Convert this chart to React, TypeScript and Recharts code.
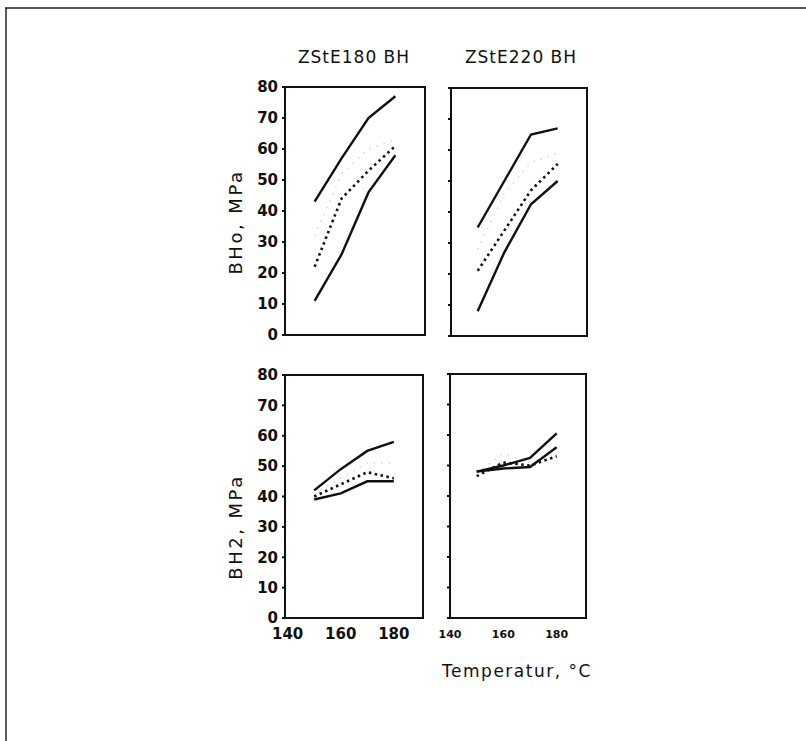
import React from 'react';
import { LineChart, Line, XAxis, YAxis, ReferenceArea } from 'recharts';

// ---- data ----
const temps = [150, 160, 170, 180];
const xTicks = [140, 160, 180];
const yTicks = [0, 10, 20, 30, 40, 50, 60, 70, 80];
const titles = ['ZStE180 BH', 'ZStE220 BH'];
const yLabels = ['BHo, MPa', 'BH2, MPa'];
const xLabel = 'Temperatur, °C';

// ZStE180 BH, BHo
const bho180Upper = [43, 57, 70, 77];
const bho180Faint = [32, 52, 60, 63];
const bho180Mid = [22, 44, 53, 61];
const bho180Lower = [11, 26, 46, 58];
// ZStE220 BH, BHo
const bho220Upper = [35, 50, 65, 67];
const bho220Faint = [28, 46, 56, 59];
const bho220Mid = [21, 34, 47, 55.5];
const bho220Lower = [8, 27, 42.5, 50];
// ZStE180 BH, BH2
const bh2180Upper = [42, 49, 55, 58];
const bh2180Faint = [41, 46, 51, 51];
const bh2180Mid = [40, 44, 48, 46];
const bh2180Lower = [39, 41, 45, 45];
// ZStE220 BH, BH2
const bh2220Upper = [48, 50, 52.5, 60.5];
const bh2220Faint = [47.5, 54, 51, 54];
const bh2220Mid = [46.5, 51, 50, 53];
const bh2220Lower = [48, 49, 49.5, 56];

const LEFT_DOMAIN: [number, number] = [139, 191];
const RIGHT_DOMAIN: [number, number] = [140, 191];
const Y_DOMAIN: [number, number] = [0, 80];

function build(upper: number[], faint: number[], mid: number[], lower: number[]) {
  return temps.map((t, i) => ({ t, upper: upper[i], faint: faint[i], mid: mid[i], lower: lower[i] }));
}

const FONT = '"DejaVu Sans", sans-serif';
const INK = '#111';

type PanelProps = {
  left: number;
  top: number;
  w: number;
  h: number;
  data: any[];
  domain: [number, number];
  yLabels: boolean;
  xLabels: 'big' | 'small' | 'none';
};

function Panel({ left, top, w, h, data, domain, yLabels: showY, xLabels }: PanelProps) {
  const padL = 60;
  const padT = 10;
  const padR = 10;
  const padB = 40;
  const xTickStyle =
    xLabels === 'big'
      ? { fontSize: 15, fontWeight: 'bold', fill: INK, fontFamily: FONT }
      : { fontSize: 11, fontWeight: 'bold', fill: INK, fontFamily: FONT };
  return (
    <div style={{ position: 'absolute', left: left - padL, top: top - padT }}>
      <LineChart
        width={w + padL + padR}
        height={h + padT + padB}
        data={data}
        margin={{ top: padT, right: padR, bottom: 0, left: 0 }}
      >
        <XAxis
          dataKey="t"
          type="number"
          domain={domain}
          allowDataOverflow
          ticks={xTicks}
          height={padB}
          axisLine={{ stroke: INK, strokeWidth: 2 }}
          tickLine={false}
          tickSize={0}
          tickMargin={xLabels === 'big' ? 10 : 12}
          tick={xLabels === 'none' ? false : xTickStyle}
          interval={0}
        />
        <YAxis
          type="number"
          domain={Y_DOMAIN}
          ticks={yTicks}
          width={padL}
          interval={0}
          axisLine={{ stroke: INK, strokeWidth: 2 }}
          tickLine={{ stroke: INK, strokeWidth: 2 }}
          tickSize={3}
          tickMargin={4}
          tickFormatter={showY ? undefined : () => ''}
          tick={{ fontSize: 15, fontWeight: 'bold', fill: INK, fontFamily: FONT }}
        />
        <ReferenceArea
          x1={domain[0]}
          x2={domain[1]}
          y1={Y_DOMAIN[0]}
          y2={Y_DOMAIN[1]}
          fill="none"
          fillOpacity={0}
          stroke={INK}
          strokeWidth={2}
          ifOverflow="visible"
        />
        <Line type="linear" dataKey="faint" stroke="#d6d6d6" strokeWidth={1.5} strokeDasharray="1.5 6" dot={false} isAnimationActive={false} />
        <Line type="linear" dataKey="upper" stroke={INK} strokeWidth={2.4} dot={false} isAnimationActive={false} />
        <Line type="linear" dataKey="mid" stroke={INK} strokeWidth={2.6} strokeDasharray="2.5 3.5" dot={false} isAnimationActive={false} />
        <Line type="linear" dataKey="lower" stroke={INK} strokeWidth={2.4} dot={false} isAnimationActive={false} />
      </LineChart>
    </div>
  );
}

export default function App() {
  return (
    <div
      style={{
        position: 'absolute',
        left: 0,
        top: 0,
        width: 806,
        height: 741,
        background: '#fff',
        overflow: 'hidden',
        fontFamily: FONT,
      }}
    >
      <Panel left={285} top={87} w={140} h={248} data={build(bho180Upper, bho180Faint, bho180Mid, bho180Lower)} domain={LEFT_DOMAIN} yLabels xLabels="none" />
      <Panel left={451} top={88} w={136} h={248} data={build(bho220Upper, bho220Faint, bho220Mid, bho220Lower)} domain={RIGHT_DOMAIN} yLabels={false} xLabels="none" />
      <Panel left={285} top={375} w={138} h={243} data={build(bh2180Upper, bh2180Faint, bh2180Mid, bh2180Lower)} domain={LEFT_DOMAIN} yLabels xLabels="big" />
      <Panel left={450} top={374} w={136} h={244} data={build(bh2220Upper, bh2220Faint, bh2220Mid, bh2220Lower)} domain={RIGHT_DOMAIN} yLabels={false} xLabels="small" />
      <svg width={806} height={741} style={{ position: 'absolute', left: 0, top: 0, pointerEvents: 'none' }}>
        <line x1={5} y1={8} x2={806} y2={8} stroke="#222" strokeWidth={1.5} />
        <line x1={6} y1={8} x2={6} y2={741} stroke="#222" strokeWidth={1.5} />
        <text x={354} y={63} textAnchor="middle" fontSize={17} letterSpacing={1} fill={INK} fontFamily={FONT}>
          {titles[0]}
        </text>
        <text x={521} y={63} textAnchor="middle" fontSize={17} letterSpacing={1} fill={INK} fontFamily={FONT}>
          {titles[1]}
        </text>
        <text x={242} y={222} textAnchor="middle" fontSize={18} letterSpacing={2.5} fill={INK} fontFamily={FONT} transform="rotate(-90 242 222)">
          {yLabels[0]}
        </text>
        <text x={242} y={527} textAnchor="middle" fontSize={18} letterSpacing={2.5} fill={INK} fontFamily={FONT} transform="rotate(-90 242 527)">
          {yLabels[1]}
        </text>
        <text x={517} y={677} textAnchor="middle" fontSize={17} letterSpacing={1.5} fill={INK} fontFamily={FONT}>
          {xLabel}
        </text>
      </svg>
    </div>
  );
}
